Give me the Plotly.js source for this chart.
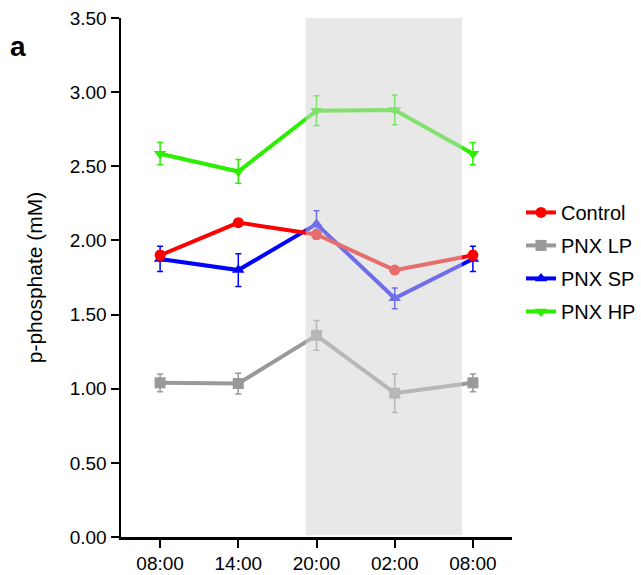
<!DOCTYPE html>
<html>
<head>
<meta charset="utf-8">
<script src="https://cdn.plot.ly/plotly-3.0.1.min.js"></script>
<style>html,body{margin:0;padding:0;background:#fff;}#chart{width:641px;height:575px;}</style>
</head>
<body>
<div id="chart"></div>
<script>
const timeLabels = ["08:00", "14:00", "20:00", "02:00", "08:00"];
const xIdx = [0, 1, 2, 3, 4];

const controlVals = [1.90, 2.12, 2.04, 1.80, 1.90];
const controlErr  = [0.03, 0.02, 0.03, 0.02, 0.03];
const lpVals = [1.04, 1.035, 1.36, 0.97, 1.04];
const lpErr  = [0.06, 0.07, 0.10, 0.13, 0.06];
const spVals = [1.875, 1.80, 2.11, 1.61, 1.875];
const spErr  = [0.085, 0.11, 0.09, 0.07, 0.085];
const hpVals = [2.585, 2.465, 2.875, 2.88, 2.585];
const hpErr  = [0.075, 0.08, 0.10, 0.10, 0.075];

const darkStart = 1.86, darkEnd = 3.86;

function tr(name, y, err, color, symbol, rank) {
  return {
    type: 'scatter', mode: 'lines+markers', name: name,
    x: xIdx, y: y,
    line: {color: color, width: 4},
    marker: {color: color, symbol: symbol, size: 11},
    error_y: {type: 'data', array: err, visible: true, color: color, thickness: 1.5, width: 3},
    legendrank: rank, legendgroup: name,
    cliponaxis: false
  };
}

const data = [
  tr('PNX HP', hpVals, hpErr, '#2bee00', 'triangle-down', 4),
  tr('PNX SP', spVals, spErr, '#0000ff', 'triangle-up', 3),
  tr('PNX LP', lpVals, lpErr, '#999999', 'square', 2),
  tr('Control', controlVals, controlErr, '#ff0000', 'circle', 1)
];

const layout = {
  width: 641, height: 575,
  margin: {l: 121, r: 129, t: 18, b: 38},
  paper_bgcolor: '#fff', plot_bgcolor: '#fff',
  font: {family: 'Liberation Sans, Arial, sans-serif', color: '#000'},
  showlegend: true,
  legend: {xref: 'container', x: 521 / 641, xanchor: 'left', yref: 'paper', y: 0.53, yanchor: 'middle',
           font: {size: 20}, tracegroupgap: 4, bgcolor: 'rgba(0,0,0,0)'},
  xaxis: {
    range: [-0.5, 4.5], tickvals: xIdx, ticktext: timeLabels,
    showgrid: false, zeroline: false, showline: true, linecolor: '#000', linewidth: 2.5,
    ticks: 'outside', ticklen: 8, tickwidth: 2, tickcolor: '#000',
    tickfont: {size: 19}, fixedrange: true
  },
  yaxis: {
    range: [0, 3.5], dtick: 0.5, tickformat: '.2f',
    showgrid: false, zeroline: false, showline: true, linecolor: '#000', linewidth: 2.5,
    ticks: 'outside', ticklen: 8, tickwidth: 2, tickcolor: '#000',
    tickfont: {size: 19},
    title: {text: 'p-phosphate (mM)', font: {size: 21}, standoff: 22}
  },
  shapes: [{
    type: 'rect', xref: 'x', yref: 'y', x0: darkStart, x1: darkEnd, y0: 0.012, y1: 3.5,
    fillcolor: 'rgba(211,211,211,0.52)', line: {width: 0}, layer: 'above'
  }],
  annotations: [{
    text: '<b>a</b>', xref: 'paper', yref: 'paper', x: -0.263, y: 0.945,
    xanchor: 'center', yanchor: 'middle', showarrow: false, font: {size: 28}
  }]
};

Plotly.newPlot('chart', data, layout, {displayModeBar: false, staticPlot: true});
</script>
</body>
</html>
